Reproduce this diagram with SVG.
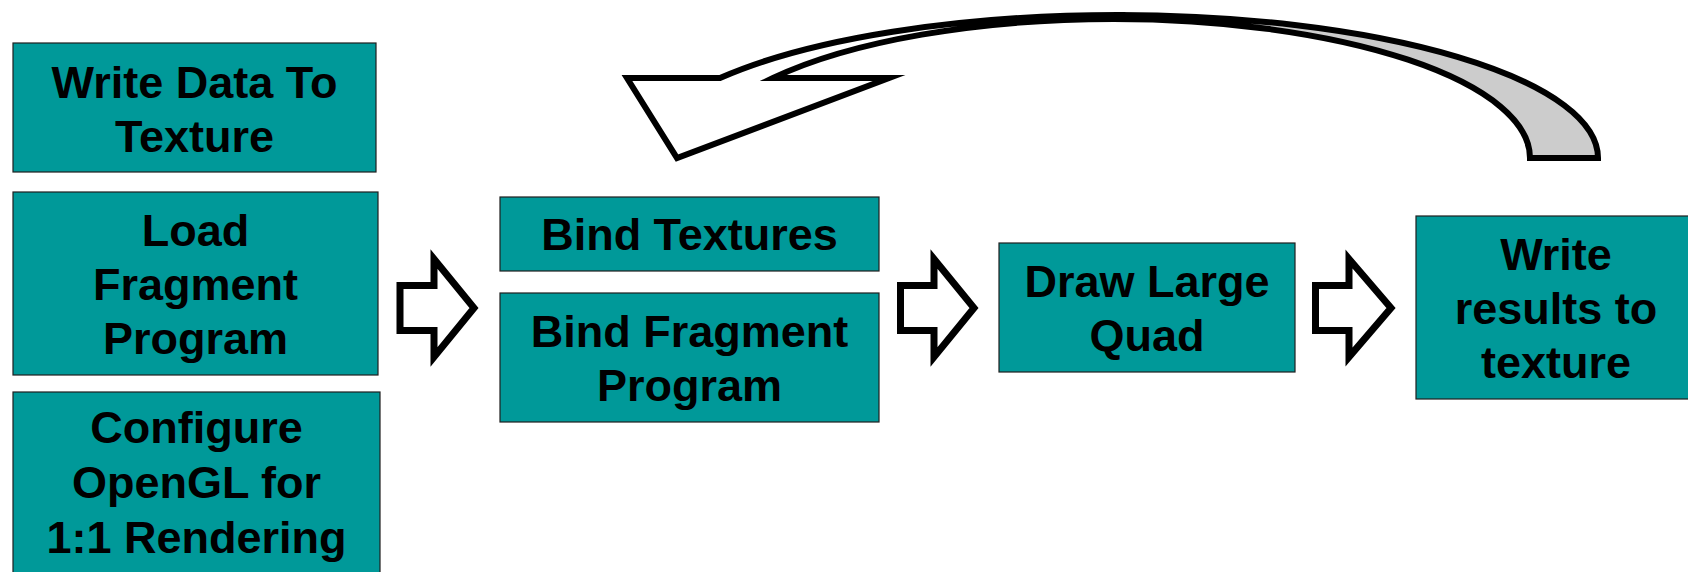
<svg xmlns="http://www.w3.org/2000/svg" width="1688" height="572" viewBox="0 0 1688 572">
<style>
.box{fill:#009999;stroke:#1f1f1f;stroke-width:1.2}
.t{font-family:"Liberation Sans",Arial,sans-serif;font-weight:bold;font-size:45px;fill:#000;text-anchor:middle}
.blk{fill:#fff;stroke:#000;stroke-width:7;stroke-linejoin:miter;stroke-miterlimit:10}
.crv{stroke:#000;stroke-width:6;stroke-linejoin:miter;stroke-miterlimit:10}
</style>
<rect width="1688" height="572" fill="#fff"/>
<g id="n1"><rect class="box" x="13" y="43" width="363" height="129"/><text class="t" x="194.5" y="98">Write Data To</text><text class="t" x="194.5" y="152">Texture</text></g>
<g id="n2"><rect class="box" x="13" y="192" width="365" height="183"/><text class="t" x="195.5" y="246">Load</text><text class="t" x="195.5" y="300">Fragment</text><text class="t" x="195.5" y="354">Program</text></g>
<g id="n3"><rect class="box" x="13" y="392" width="367" height="186"/><text class="t" x="196.5" y="443">Configure</text><text class="t" x="196.5" y="498">OpenGL for</text><text class="t" x="196.5" y="553">1:1 Rendering</text></g>
<g id="n4"><rect class="box" x="500" y="197" width="379" height="74"/><text class="t" x="689.5" y="250">Bind Textures</text></g>
<g id="n5"><rect class="box" x="500" y="293" width="379" height="129"/><text class="t" x="689.5" y="347">Bind Fragment</text><text class="t" x="689.5" y="401">Program</text></g>
<g id="n6"><rect class="box" x="999" y="243" width="296" height="129"/><text class="t" x="1147" y="297">Draw Large</text><text class="t" x="1147" y="351">Quad</text></g>
<g id="n7"><rect class="box" x="1416" y="216" width="280" height="183"/><text class="t" x="1556" y="270">Write</text><text class="t" x="1556" y="324">results to</text><text class="t" x="1556" y="378">texture</text></g>
<g id="connectors">
<polygon class="blk" points="400,285.5 434,285.5 434,259 474,308 434,357 434,330.5 400,330.5"/>
<polygon class="blk" points="900.5,285.5 934,285.5 934,259 974,308 934,357 934,330.5 900.5,330.5"/>
<polygon class="blk" points="1315.5,285.5 1349,285.5 1349,259 1391,308 1349,357 1349,330.5 1315.5,330.5"/>
<path class="crv" fill="#cccccc" d="M1530,158 L1598,158 A480,143 0 0 0 1118,15 L1113.5,19 A416.5,139 0 0 1 1530,158 Z"/>
<path class="crv" fill="#ffffff" d="M627,78 L720,78 A480,143 0 0 1 1118,15 L1113.5,19 A416.5,139 0 0 0 773,78 L889,78 L677,158 Z"/>
</g>
</svg>
